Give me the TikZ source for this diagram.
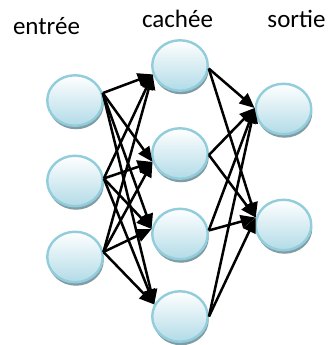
\documentclass[tikz,border=0pt]{standalone}
\usepackage{fontspec}
\setmainfont{Carlito}
\usetikzlibrary{shapes.geometric,arrows.meta,shadows}
\definecolor{nodeborder}{RGB}{146,205,220}
\definecolor{nodefill}{RGB}{178,219,231}
\definecolor{nodeshadow}{RGB}{130,156,165}
\begin{document}
\begin{tikzpicture}[x=1pt,y=-1pt,
  neuron/.style={ellipse, draw=nodeborder, line width=2.4pt,
    top color=white, bottom color=nodefill,
    minimum width=55.5pt, minimum height=50.5pt, inner sep=0pt,
    drop shadow={shadow xshift=1pt, shadow yshift=-3.5pt, fill=nodeshadow, opacity=1}},
  link/.style={draw=black, line width=2.5pt, -{Triangle[length=15pt,width=13pt]}},
  layer/.style={font=\fontsize{25}{30}\selectfont, anchor=base, inner sep=0pt}]
\useasboundingbox (0,0) rectangle (331,345);
\node[layer] (lin)  at (46.5,35) {entrée};
\node[layer] (lhid) at (177.5,28) {cachée};
\node[layer] (lout) at (296.5,28) {sortie};
\node[neuron] (i1) at (75,100.5) {};
\node[neuron] (i2) at (75,181) {};
\node[neuron] (i3) at (75,257) {};
\node[neuron] (h1) at (180,65.5) {};
\node[neuron] (h2) at (180,153.5) {};
\node[neuron] (h3) at (180,234) {};
\node[neuron] (h4) at (180,316.5) {};
\node[neuron] (o1) at (283.5,109) {};
\node[neuron] (o2) at (283.5,225) {};
% input -> hidden
\foreach \s/\a in {i1/15,i2/5,i3/10}{
  \draw[link] (\s.\a) -- (h1.198);
  \draw[link] (\s.\a) -- (h2.197);
  \draw[link] (\s.\a) -- (h3.170);
  \draw[link] (\s.\a) -- (h4.155);
}
% hidden -> output
\foreach \s/\a in {h1/-6,h2/-3,h3/7,h4/0}{
  \draw[link] (\s.\a) -- (o1.178);
  \draw[link] (\s.\a) -- (o2.165);
}
\end{tikzpicture}
\end{document}
